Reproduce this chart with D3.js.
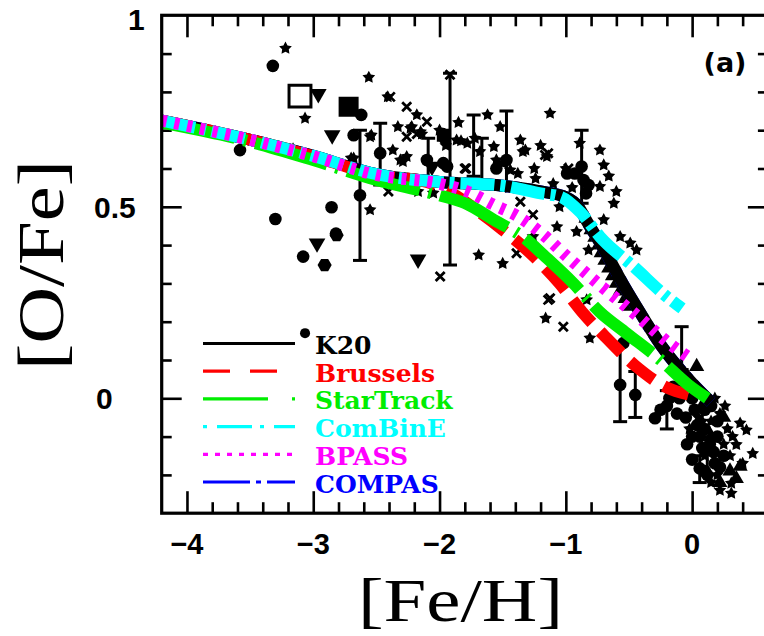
<!DOCTYPE html>
<html><head><meta charset="utf-8">
<script src="https://cdn.jsdelivr.net/npm/d3@7"></script>
<style>html,body{margin:0;padding:0;background:#fff;} svg{display:block}</style>
</head><body><svg id="chart" width="764" height="636"></svg>
<script>
// ---- tick labels ----
const xTickLabels = [-4, -3, -2, -1, 0];
const yTickLabels = [0, 0.5, 1];

// ---- model tracks: [Fe/H] and [O/Fe] ----
const k20Feh = [-4.2, -3.5, -3.0, -2.5, -2.0, -1.5, -1.2, -1.0, -0.9, -0.83, -0.7, -0.55, -0.46, -0.25, 0.0, 0.15];
const k20Ofe = [0.725, 0.675, 0.633, 0.585, 0.565, 0.555, 0.54, 0.525, 0.50, 0.46, 0.39, 0.30, 0.25, 0.14, 0.04, -0.01];
const compasFeh = [-4.2, -3.5, -3.0, -2.5, -2.0, -1.5, -1.2, -1.0, -0.9, -0.83, -0.7, -0.55, -0.46, -0.25, 0.0, 0.15];
const compasOfe = [0.725, 0.675, 0.633, 0.585, 0.565, 0.555, 0.54, 0.525, 0.50, 0.46, 0.39, 0.30, 0.25, 0.14, 0.04, -0.01];
const brusselsFeh = [-4.2, -3.5, -3.0, -2.5, -2.1, -1.9, -1.7, -1.5, -1.3, -1.05, -0.87, -0.7, -0.45, -0.2, -0.03];
const brusselsOfe = [0.725, 0.675, 0.632, 0.583, 0.565, 0.535, 0.49, 0.44, 0.385, 0.30, 0.225, 0.165, 0.085, 0.028, 0.01];
const startrackFeh = [-4.2, -3.5, -3.0, -2.5, -2.0, -1.8, -1.57, -1.31, -1.18, -0.94, -0.73, -0.52, -0.25, -0.03, 0.12];
const startrackOfe = [0.72, 0.67, 0.622, 0.57, 0.53, 0.51, 0.466, 0.414, 0.375, 0.30, 0.225, 0.17, 0.10, 0.035, 0.0];
const combineFeh = [-4.2, -3.5, -3.0, -2.5, -2.0, -1.5, -1.2, -1.04, -0.88, -0.73, -0.45, -0.2, -0.08];
const combineOfe = [0.725, 0.675, 0.633, 0.585, 0.565, 0.555, 0.535, 0.526, 0.484, 0.422, 0.34, 0.265, 0.235];
const bpassFeh = [-4.2, -3.5, -3.0, -2.5, -2.0, -1.78, -1.57, -1.38, -1.19, -0.99, -0.71, -0.44, -0.16, -0.04];
const bpassOfe = [0.725, 0.675, 0.632, 0.583, 0.56, 0.54, 0.505, 0.475, 0.43, 0.37, 0.29, 0.217, 0.138, 0.11];

// ---- observed stars ----
const starMarks = [[-3.22,0.914],[-2.56,0.838],[-3.065,0.731],[-3.16,0.651],[-2.55,0.492],[-2.41,0.787],[-2.18,0.74],
  [-2.33,0.709],[-2.22,0.709],[-2.14,0.69],[-2.29,0.618],[-2.37,0.648],[-2.17,0.54],[-2.05,0.536],[-2.55,0.683],
  [-2.70,0.627],[-2.31,0.622],[-2.26,0.631],[-2.68,0.627],[-2.54,0.687],[-2.23,0.705],[-2.15,0.696],[-1.865,0.674],
  [-1.83,0.672],[-1.125,0.744],[-1.32,0.648],[-1.52,0.709],[-1.15,0.631],[-0.73,0.648],[-0.70,0.609],[-0.73,0.553],
  [-0.62,0.509],[-0.70,0.466],[-0.57,0.422],[-0.49,0.405],[-0.44,0.387],[-1.69,0.374],[-1.50,0.352],[-1.07,0.448],
  [-0.915,0.435],[-1.26,0.422],[-1.16,0.209],[-0.81,0.157],[-0.835,0.257],[-0.89,0.666],[-1.34,0.644],[-1.24,0.574],
  [-0.82,0.387],[-1.78,0.666],[-1.72,0.679],[-1.68,0.644],[-1.55,0.622],[-1.57,0.657],[-1.50,0.614],[-1.44,0.596],
  [-1.38,0.587],[-1.36,0.674],[-1.62,0.74],[-1.95,0.66],[-2.0,0.70],[-1.1,0.56],[-1.0,0.60],[-0.95,0.55],[-1.45,0.55],
  [-1.05,0.50],[-0.6,0.54],[-0.66,0.58],[-1.85,0.72],[-1.25,0.60],[-1.2,0.66],
  [0.38,-0.065],[0.43,-0.083],[0.35,-0.121],[0.48,-0.144],[0.31,-0.222],[0.31,-0.248],
  [0.05,-0.05],[0.15,-0.06],[0.22,-0.04],[0.28,-0.08],[0.1,-0.15],[0.2,-0.2],[0.25,-0.12],[-0.02,-0.08],[0.3,-0.15],[0.12,0.0],
  [0.18,0.0],[0.26,-0.02],[0.32,-0.1],[0.4,-0.17],[0.22,-0.24],[0.15,-0.22],[0.08,-0.06]];
const crossMarks = [[-1.995,0.318],[-2.405,0.54],[-2.26,0.761],[-2.1,0.722],[-2.18,0.69],[-2.26,0.683],[-2.39,0.787],
  [-1.79,0.60],[-1.26,0.479],[-1.39,0.379],[-1.125,0.261],[-1.02,0.187],[-1.14,0.257],[-1.165,0.635],[-1.36,0.513],
  [-1.80,0.60],[-1.917,0.845],[-1.14,0.64],[-0.98,0.60]];
const circleMarks = [[-3.32,0.868],[-2.62,0.74],[-2.68,0.687],[-3.58,0.648],[-2.63,0.53],[-2.855,0.499],[-3.30,0.468],
  [-3.08,0.37],[-2.47,0.64],[-2.1,0.622],[-1.94,0.605],[-1.97,0.614],[-2.82,0.43],[-1.47,0.622],[-0.875,0.605],
  [-0.82,0.557],[-0.93,0.587],[-0.86,0.57],[-0.84,0.535],[-0.99,0.587],[-0.57,0.035],[-0.45,0.009],[-0.545,0.144],
  [-0.294,-0.052],[0.06,-0.183],[-1.55,0.6],
  [-0.2,-0.02],[-0.1,0.0],[-0.05,-0.05],[0.02,-0.03],[0.1,-0.08],[0.15,-0.02],[0.2,-0.1],[0.08,-0.13],[0.0,-0.1],
  [0.25,-0.15],[0.12,-0.2],[0.18,-0.17],[-0.15,0.03],[0.05,0.02],
  [-0.25,-0.03],[-0.18,0.0],[-0.12,-0.04],[-0.08,0.02],[0.0,0.0],[0.04,-0.07],[0.1,-0.03],[0.14,-0.12],[0.06,-0.1],
  [0.2,-0.06],[0.17,-0.14],[0.1,-0.19],[0.0,-0.16],[0.22,-0.18],[-0.04,-0.12]];
const smallCircleMarks = [[-3.065,0.17]];
const hexagonMarks = [[-2.815,0.426],[-2.91,0.348],[-1.96,0.679]];
const downTriangleMarks = [[-2.96,0.795],[-2.85,0.687],[-2.97,0.405],[-2.17,0.363],[-2.06,0.605]];
const upTriangleMarks = [[-0.84,0.47],[-0.80,0.44],[-0.77,0.42],[-0.74,0.40],[-0.72,0.38],[-0.69,0.36],[-0.66,0.34],
  [-0.63,0.32],[-0.60,0.30],[-0.57,0.28],[-0.53,0.26],[-0.49,0.24],[0.036,0.083],[0.38,-0.178],
  [0.3,-0.19],[0.35,-0.21],[0.22,-0.22],[0.15,-0.1],[0.08,-0.02],[0.25,-0.05]];
const squareMarks = [[-2.72,0.761],[-1.97,0.687]];
const openSquareMarks = [[-3.105,0.789]];
// error bars: [Fe/H], low, high
const errorBars = [[-2.63,0.36,0.70],[-2.47,0.557,0.718],[-2.09,0.56,0.679],[-1.917,0.348,0.849],[-1.73,0.58,0.74],
  [-1.665,0.56,0.679],[-1.47,0.543,0.75],[-0.875,0.509,0.70],[-0.57,-0.061,0.14],[-0.45,-0.05,0.07],
  [-0.083,0.075,0.187],[0.06,-0.22,-0.15],[-0.2,-0.08,0.02],[0.12,-0.2,-0.1]];

// ---- legend ----
const seriesNames = ["K20", "Brussels", "StarTrack", "ComBinE", "BPASS", "COMPAS"];
const seriesColors = ["#000000", "#ff0000", "#00ee00", "#00ffff", "#ff00ff", "#0000ff"];
const seriesDashPlot = [null, "30,12", "75,9,3,9", "34,6,5,6", "5,8", "47,6,5,6"];
const seriesDashLegend = [null, "27,20", "65,24,4,40", "4,10,35,8", "5,7", "47,6,5,6"];

const svg = d3.select("#chart");
const L = 161.7, R = 767.9, T = 15.3, B = 513.2;
const x = d3.scaleLinear().domain([-4.2, 0.6]).range([L, R]);
const y = d3.scaleLinear().domain([-0.3, 1.0]).range([B, T]);

svg.append("defs").append("clipPath").attr("id", "plotArea")
  .append("rect").attr("x", L).attr("y", T).attr("width", R - L).attr("height", B - T);

// ---- ticks (pointing inward on all four sides) ----
const minorX = d3.range(-4.0, 0.61, 0.2).map(v => +v.toFixed(1)).filter(v => Math.abs(v - Math.round(v)) > 1e-6);
const majorX = [-4, -3, -2, -1, 0];
const minorY = d3.range(-0.2, 0.95, 0.1).map(v => +v.toFixed(1)).filter(v => Math.abs(v * 2 - Math.round(v * 2)) > 1e-6);
const majorY = [0, 0.5];
function tickAxis(gen, vals, size, tx, ty) {
  const g = svg.append("g").attr("transform", `translate(${tx},${ty})`)
    .call(gen.tickValues(vals).tickSize(size).tickFormat(""));
  g.select(".domain").remove();
  g.selectAll(".tick line").attr("stroke", "#000").attr("stroke-width", 2.6);
}
tickAxis(d3.axisBottom(x), minorX, -11, 0, B);
tickAxis(d3.axisBottom(x), majorX, -22, 0, B);
tickAxis(d3.axisTop(x), minorX, -11, 0, T);
tickAxis(d3.axisTop(x), majorX, -22, 0, T);
tickAxis(d3.axisLeft(y), minorY, -10, L, 0);
tickAxis(d3.axisLeft(y), majorY, -20, L, 0);
tickAxis(d3.axisRight(y), minorY, -10, R, 0);
tickAxis(d3.axisRight(y), majorY, -20, R, 0);

// ---- tick labels ----
const tickFont = "'Liberation Sans', Arial, sans-serif";
svg.append("g").selectAll("text").data(xTickLabels).join("text")
  .attr("x", d => x(d)).attr("y", 554).attr("text-anchor", "middle")
  .attr("font-family", tickFont).attr("font-weight", "bold").attr("font-size", 29)
  .text(d => d === 0 ? "0" : "\u2212" + Math.abs(d));
const yLabelX = {0: 96, 0.5: 94, 1: 128};
svg.append("g").selectAll("text").data(yTickLabels).join("text")
  .attr("x", d => yLabelX[d]).attr("y", d => d === 1 ? 30 : y(d) + 11).attr("text-anchor", "start")
  .attr("font-family", tickFont).attr("font-weight", "bold").attr("font-size", 30)
  .text(d => String(d));

// ---- axis titles ----
svg.append("text").attr("x", 460.5).attr("y", 621).attr("text-anchor", "middle")
  .attr("font-family", "'Liberation Serif', 'Times New Roman', serif").attr("font-size", 62)
  .attr("textLength", 205).attr("lengthAdjust", "spacingAndGlyphs").text("[Fe/H]");
svg.append("text").attr("transform", "translate(63,265) rotate(-90)").attr("text-anchor", "middle")
  .attr("font-family", "'Liberation Serif', 'Times New Roman', serif").attr("font-size", 66)
  .attr("textLength", 210).attr("lengthAdjust", "spacingAndGlyphs").text("[O/Fe]");

svg.append("text").attr("x", 725).attr("y", 72).attr("text-anchor", "middle")
  .attr("font-family", "'DejaVu Sans', sans-serif").attr("font-weight", "bold").attr("font-size", 27).text("(a)");

// ---- data markers ----
const plot = svg.append("g").attr("clip-path", "url(#plotArea)");
const starShape = {draw(ctx, size) {
  const r = Math.sqrt(size) * 0.75;
  for (let i = 0; i < 10; i++) {
    const a = -Math.PI / 2 + i * Math.PI / 5, rr = i % 2 ? r * 0.52 : r;
    i ? ctx.lineTo(rr * Math.cos(a), rr * Math.sin(a)) : ctx.moveTo(rr * Math.cos(a), rr * Math.sin(a));
  }
  ctx.closePath();
}};
const hexShape = {draw(ctx, size) {
  const r = Math.sqrt(size) * 0.62;
  for (let i = 0; i < 6; i++) {
    const a = i * Math.PI / 3;
    i ? ctx.lineTo(r * Math.cos(a), r * Math.sin(a)) : ctx.moveTo(r * Math.cos(a), r * Math.sin(a));
  }
  ctx.closePath();
}};
function marks(data, type, size, opts = {}) {
  plot.append("g").selectAll("path").data(data).join("path")
    .attr("transform", d => `translate(${x(d[0])},${y(d[1])})${opts.rot ? " rotate(180)" : ""}`)
    .attr("d", d3.symbol(type, size))
    .attr("fill", opts.open ? "none" : "#000")
    .attr("stroke", opts.open ? "#000" : "none").attr("stroke-width", opts.open ? 3 : 0);
}
// error bars
const eb = plot.append("g").attr("stroke", "#000").attr("stroke-width", 3);
eb.selectAll("line.v").data(errorBars).join("line").attr("class", "v")
  .attr("x1", d => x(d[0])).attr("x2", d => x(d[0])).attr("y1", d => y(d[1])).attr("y2", d => y(d[2]));
eb.selectAll("line.lo").data(errorBars).join("line").attr("class", "lo")
  .attr("x1", d => x(d[0]) - 7).attr("x2", d => x(d[0]) + 7).attr("y1", d => y(d[1])).attr("y2", d => y(d[1]));
eb.selectAll("line.hi").data(errorBars).join("line").attr("class", "hi")
  .attr("x1", d => x(d[0]) - 7).attr("x2", d => x(d[0]) + 7).attr("y1", d => y(d[2])).attr("y2", d => y(d[2]));

marks(circleMarks, d3.symbolCircle, 125);
marks(smallCircleMarks, d3.symbolCircle, 80);
marks(hexagonMarks, hexShape, 130);
marks(downTriangleMarks, d3.symbolTriangle, 120, {rot: true});
marks(upTriangleMarks, d3.symbolTriangle, 100);
marks(squareMarks.slice(0, 1), d3.symbolSquare, 400);
marks(squareMarks.slice(1), d3.symbolSquare, 170);
marks(openSquareMarks, d3.symbolSquare, 480, {open: true});
marks(starMarks, starShape, 80);
plot.append("g").selectAll("path").data(crossMarks).join("path")
  .attr("transform", d => `translate(${x(d[0])},${y(d[1])})`)
  .attr("d", "M-4.5,-4.5L4.5,4.5M-4.5,4.5L4.5,-4.5")
  .attr("stroke", "#000").attr("stroke-width", 2.8).attr("fill", "none");

// ---- model curves ----
const tracks = [
  [compasFeh, compasOfe, 5], [k20Feh, k20Ofe, 0], [brusselsFeh, brusselsOfe, 1],
  [startrackFeh, startrackOfe, 2], [combineFeh, combineOfe, 3], [bpassFeh, bpassOfe, 4]
];
const line = d3.line().x(d => x(d[0])).y(d => y(d[1])).curve(d3.curveMonotoneX);
tracks.forEach(([fx, fy, i]) => {
  plot.append("path").datum(fx.map((v, k) => [v, fy[k]]))
    .attr("d", line).attr("fill", "none")
    .attr("stroke", seriesColors[i]).attr("stroke-width", 12)
    .attr("stroke-dasharray", seriesDashPlot[i]);
});

// ---- frame ----
svg.append("rect").attr("x", L).attr("y", T).attr("width", R - L).attr("height", B - T)
  .attr("fill", "none").attr("stroke", "#000").attr("stroke-width", 3.2);

// ---- legend ----
const lg = svg.append("g");
seriesNames.forEach((name, i) => {
  const ly = 343.5 + i * 27.7;
  lg.append("line").attr("x1", 203).attr("x2", 295).attr("y1", ly).attr("y2", ly)
    .attr("stroke", seriesColors[i]).attr("stroke-width", 3.2)
    .attr("stroke-dasharray", seriesDashLegend[i]);
  lg.append("text").attr("x", 315).attr("y", ly + 10.5)
    .attr("font-family", "'DejaVu Serif', serif").attr("font-weight", "bold").attr("font-size", 25)
    .attr("fill", seriesColors[i]).text(name);
});
</script>
</body></html>
